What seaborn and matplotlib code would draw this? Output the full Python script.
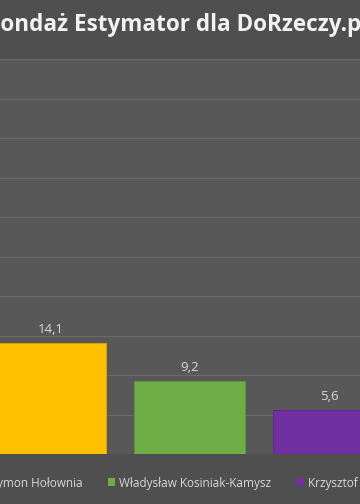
import matplotlib
matplotlib.use("Agg")
import matplotlib.pyplot as plt
import seaborn as sns
import pandas as pd
from matplotlib.patches import Patch
from matplotlib.colors import to_rgb

# data
candidates = ["Szymon Hołownia", "Władysław Kosiniak-Kamysz", "Krzysztof Bosak"]
support = [14.1, 9.2, 5.6]
value_labels = ["14,1", "9,2", "5,6"]
colors = ["#FFC000", "#70AD47", "#7030A0"]
title = "Sondaż Estymator dla DoRzeczy.pl"
yticks = list(range(0, 55, 5))

sns.set_theme(style="dark")
plt.rcParams["font.family"] = ["Open Sans", "DejaVu Sans"]

W, H = 360, 504
fig = plt.figure(figsize=(W / 100, H / 100), dpi=100, facecolor="#4f4f4f")

# plot area is wider than the picture (the reference is a crop)
ax = fig.add_axes([-19.3 / W, (H - 454) / H, 418 / W, (454 - 59) / H])
ax.set_facecolor("#585858")

df = pd.DataFrame({"candidate": candidates, "support": support})
sns.barplot(data=df, x="candidate", y="support", hue="candidate",
            palette=colors, width=0.8, saturation=1, legend=False, ax=ax)

for patch, c in zip(ax.patches, colors):
    r, g, b = to_rgb(c)
    patch.set_edgecolor((r * 0.85, g * 0.85, b * 0.85))
    patch.set_linewidth(0.7)

for cont, lab in zip(ax.containers, value_labels):
    ax.bar_label(cont, labels=[lab], padding=5, fontsize=9.5, color="#d9d9d9")

ax.set_xlim(-0.5, 2.5)
ax.set_ylim(0, 50)
ax.set_yticks(yticks)
ax.grid(axis="y", color="#6a6a6a", linewidth=0.8)
ax.set_axisbelow(True)
ax.set_xlabel("")
ax.set_ylabel("")
ax.set_xticklabels([])
ax.set_yticklabels([])
ax.tick_params(length=0)
for s in ax.spines.values():
    s.set_visible(False)

renderer = fig.canvas.get_renderer()


# title: fit so that "ondaż ... DoRzeczy.p" fills the width, "S" and "l" cut off
def text_width(txt, fs):
    t = fig.text(0, 0, txt, fontsize=fs, fontweight="bold")
    w = t.get_window_extent(renderer).width
    t.remove()
    return w


fs0 = 15
w_part = text_width(title[1:-1], fs0)
fs_title = fs0 * 361 / w_part
w_full = text_width(title, fs_title)
w_rest = text_width(title[1:], fs_title)
fig.text(-(w_full - w_rest) / W, 1 - 25 / H, title, fontsize=fs_title,
         fontweight="bold", color="#f2f2f2", ha="left", va="center")

# legend
handles = [Patch(facecolor=c, edgecolor="none") for c in colors]


def make_legend(fs):
    px = fs * 100 / 72
    return fig.legend(handles, candidates, ncol=3, loc="center left",
                      bbox_to_anchor=(0, 1 - 483 / H), frameon=False,
                      fontsize=fs, labelcolor="#d9d9d9",
                      handlelength=7.5 / px, handleheight=7.5 / px,
                      handletextpad=4 / px, columnspacing=25 / px,
                      borderpad=0, borderaxespad=0)


leg = make_legend(8)
fig.canvas.draw()
w = leg.get_texts()[1].get_window_extent(renderer).width
fs_leg = 8 * 154 / w
leg.remove()
leg = make_legend(fs_leg)
fig.canvas.draw()
x_now = leg.get_texts()[1].get_window_extent(renderer).x0
leg.set_bbox_to_anchor(((119 - x_now) / W, 1 - 483 / H), transform=fig.transFigure)

fig.savefig("out.png", dpi=100, facecolor=fig.get_facecolor())
